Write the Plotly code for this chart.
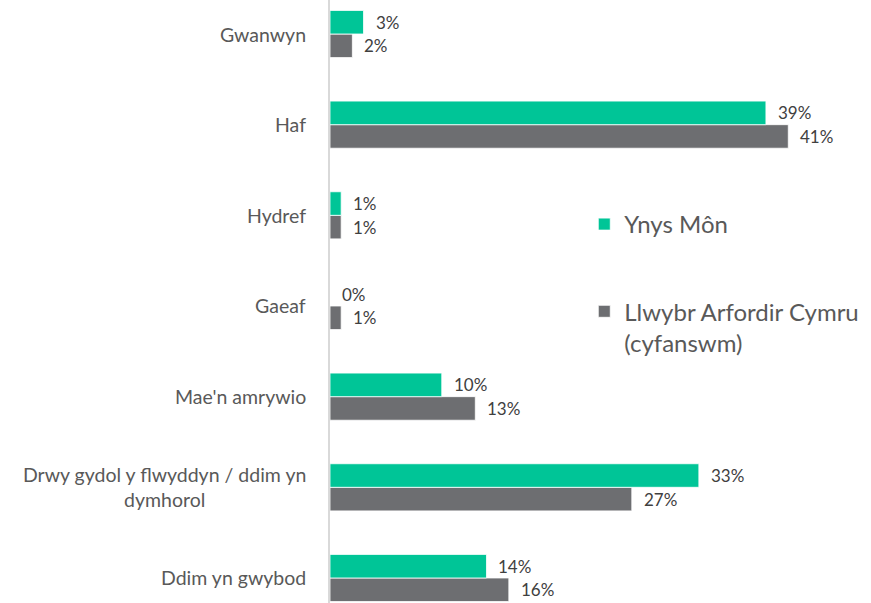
import plotly.graph_objects as go

categories = ["Gwanwyn", "Haf", "Hydref", "Gaeaf", "Mae'n amrywio",
              "Drwy gydol y flwyddyn / ddim yn<br>dymhorol", "Ddim yn gwybod"]
ynys_mon = [3, 39, 1, 0, 10, 33, 14]
cymru = [2, 41, 1, 1, 13, 27, 16]
series_names = ["Ynys Môn", "Llwybr Arfordir Cymru<br>(cyfanswm)"]

GREEN = "#00C597"
GREY = "#6D6E71"
TEXT = "#595959"
FONT = "Lato"

n = len(categories)
ypos = [n - 1 - i for i in range(n)]  # top to bottom

fig = go.Figure()
fig.add_trace(go.Bar(
    y=ypos, x=cymru, orientation="h", name=series_names[1],
    marker=dict(color=GREY, line=dict(color="white", width=0.8)),
    legendgroup="b", legendrank=2, hoverinfo="skip",
))
fig.add_trace(go.Bar(
    y=ypos, x=ynys_mon, orientation="h", name=series_names[0],
    marker=dict(color=GREEN, line=dict(color="white", width=0.8)),
    legendgroup="a", legendrank=1, hoverinfo="skip",
))

offset = 0.13
annotations = []
for i in range(n):
    annotations.append(dict(x=ynys_mon[i], y=ypos[i] + offset, xref="x", yref="y",
                            text=f"{ynys_mon[i]}%", showarrow=False, xanchor="left",
                            xshift=10, font=dict(family=FONT, size=17, color="#404040")))
    annotations.append(dict(x=cymru[i], y=ypos[i] - offset, xref="x", yref="y",
                            text=f"{cymru[i]}%", showarrow=False, xanchor="left",
                            xshift=10, font=dict(family=FONT, size=17, color="#404040")))
    annotations.append(dict(x=0, y=ypos[i], xref="paper", yref="y",
                            text=categories[i], showarrow=False, xanchor="right",
                            align="center", xshift=-22,
                            font=dict(family=FONT, size=19.5, color=TEXT)))

fig.update_layout(
    width=871, height=603,
    margin=dict(l=330, r=0, t=0, b=0),
    paper_bgcolor="white", plot_bgcolor="white",
    barmode="group", bargap=0.48, bargroupgap=0,
    font=dict(family=FONT, color=TEXT),
    xaxis=dict(range=[0, 48.4], showgrid=False, showticklabels=False,
               zeroline=False, showline=False, fixedrange=True),
    yaxis=dict(range=[-0.276, 6.375], showgrid=False, showticklabels=False,
               zeroline=False, showline=True, linecolor="#D9D9D9", linewidth=1.5,
               ticks="", fixedrange=True),
    legend=dict(x=0.47, y=0.665, xanchor="left", yanchor="top",
                font=dict(family=FONT, size=24, color=TEXT), valign="top",
                tracegroupgap=53, bgcolor="rgba(0,0,0,0)"),
    annotations=annotations,
    showlegend=True,
)

fig.write_html("out.html", config={"displayModeBar": False})
with open("out.html", encoding="utf-8") as f:
    html = f.read()
html = html.replace("<body>", '<body style="margin:0;padding:0;">', 1)
with open("out.html", "w", encoding="utf-8") as f:
    f.write(html)
